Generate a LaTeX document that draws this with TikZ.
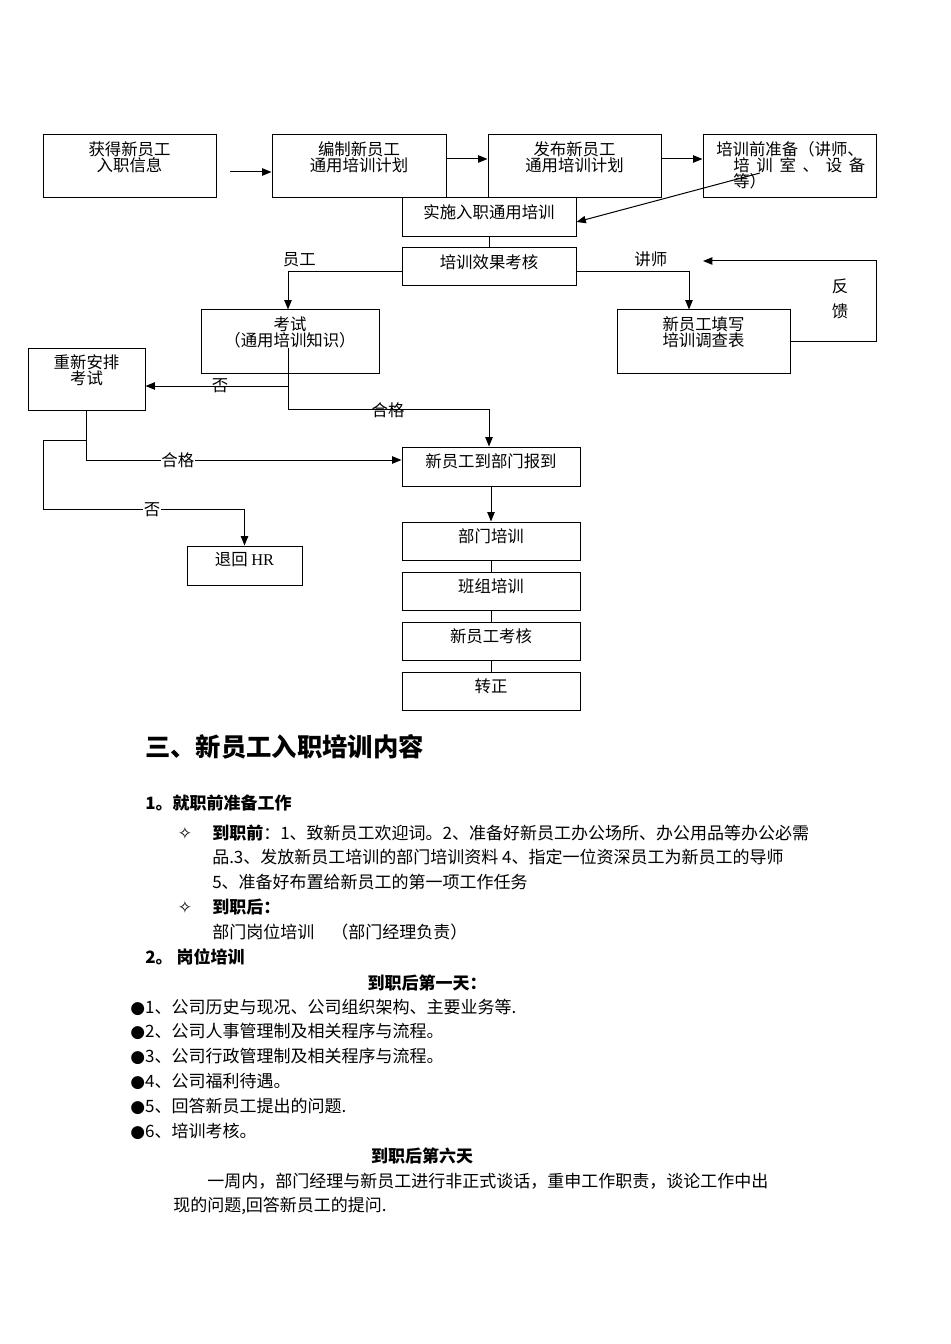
\documentclass[tikz,border=0pt]{standalone}
\usepackage{fontspec}
\setmainfont{Noto Sans CJK SC}
\newfontfamily\symfont{DejaVu Sans}
\newfontfamily\latfont{Liberation Serif}
\usetikzlibrary{arrows.meta,positioning,calc}
\newcommand\flowsize{\fontsize{12.3pt}{12pt}\selectfont\lineskiplimit=-5pt}
\newcommand\bodysize{\fontsize{12.75pt}{18pt}\selectfont}
\tikzset{
  box/.style 2 args={draw, line width=0.75pt, inner sep=0pt, minimum width=#1*0.75pt, minimum height=#2*0.75pt},
  txt/.style={align=center, inner sep=0pt, font=\flowsize},
  line/.style={line width=0.75pt},
  arr/.style={line, -{Triangle[length=7pt,width=5.5pt]}},
  lbl/.style={inner sep=0.5pt, font=\flowsize},
  body/.style={anchor=west, inner sep=0pt, font=\bodysize},
  head/.style={anchor=west, inner sep=0pt, font=\bodysize\bfseries}
}

\begin{document}
\begin{tikzpicture}[x=0.75pt, y=-0.75pt]
\useasboundingbox (0,0) rectangle (950,1344);

% flow chart boxes
\node (get)     [box={173}{63}] at (129.5,166.5) {};
\node (plan)    [box={174}{63}] at (359,166.5) {};
\node (pub)     [box={173}{63}] at (574.5,166.5) {};
\node (prep)    [box={173}{63}] at (789.5,166.5) {};
\node (impl)    [box={174}{39}] at (489,217.5) {};
\node (eval)    [box={174}{38}] at (489,267) {};
\node (exam)    [box={178}{63}] at (290,341.5) {};
\node (survey)  [box={173}{63}] at (703.5,341.5) {};
\node (retry)   [box={117}{62}] at (86.5,379) {};
\node (report)  [box={178}{39}] at (491,466.5) {};
\node (hr)      [box={115}{39}] at (244.5,565.5) {};
\node (dept)    [box={178}{38}] at (491,541) {};
\node (team)    [box={178}{38}] at (491,591) {};
\node (check)   [box={178}{38}] at (491,641) {};
\node (regular) [box={178}{38}] at (491,691) {};

% box texts
\node (gett)    [txt, below=5pt of get.north] {获得新员工\\入职信息};
\node (plant)   [txt, below=5pt of plan.north] {编制新员工\\通用培训计划};
\node (pubt)    [txt, below=5pt of pub.north] {发布新员工\\通用培训计划};
\node (prept)   [txt, align=left, anchor=north west] at (716,141)
  {培训前准备（讲师、\\\hspace*{12.75pt}\makebox[99pt]{培\hfill 训\hfill 室\hfill 、\hfill 设\hfill 备}\\\hspace*{12.75pt}等）};
\node (implt)   [txt, below=5pt of impl.north] {实施入职通用培训};
\node (evalt)   [txt, below=5pt of eval.north] {培训效果考核};
\node (examt)   [txt, below=5pt of exam.north] {考试\\（通用培训知识）};
\node (surveyt) [txt, below=5pt of survey.north] {新员工填写\\培训调查表};
\node (retryt)  [txt, below=5pt of retry.north] {重新安排\\考试};
\node (reportt) [txt, below=5pt of report.north] {新员工到部门报到};
\node (hrt)     [txt, below=5pt of hr.north] {退回 {\latfont HR}};
\node (deptt)   [txt, below=5pt of dept.north] {部门培训};
\node (teamt)   [txt, below=5pt of team.north] {班组培训};
\node (checkt)  [txt, below=5pt of check.north] {新员工考核};
\node (regulart)[txt, below=5pt of regular.north] {转正};

% connectors
\coordinate (gettail) at (230,172);
\draw[arr] (gettail) -- (gettail -| plan.west);
\draw[arr] ($(plan.east)+(0,-7.5)$) -- ($(pub.west)+(0,-7.5)$);
\draw[arr] ($(pub.east)+(0,-7.5)$) -- ($(prep.west)+(0,-7.5)$);
\coordinate (preptail) at (760,173);
\draw[arr] (preptail) -- ($(impl.east)+(0,4.5)$);
\draw[line] (impl.south) -- (eval.north);

\draw[arr] ($(eval.west)+(0,5)$) -| node[lbl, above=3pt, pos=0.45] {员工} ($(exam.north)+(-2,0)$);
\draw[arr] ($(eval.east)+(0,5)$) -| node[lbl, above=3pt, pos=0.33] {讲师} ($(survey.north)+(-14.5,0)$);

\coordinate (fbtip) at (703,261);
\draw[arr] (survey.east) -- ++(86,0) |- (fbtip);
\node (fbt) [txt] at (840,298.5) {反\\[6.75pt]馈};

\coordinate (examtail) at (288,348);
\draw[arr] (examtail) |- ($(report.north)+(-2,-37)$) -- ($(report.north)+(-2,0)$);
\draw[arr] (288,386) -- (retry.east |- 288,386);
\node (no1) [lbl] at (220,386) {否};
\node (ok1) [lbl] at (388,410) {合格};

\draw[arr] (retry.south) |- node[lbl, fill=white, pos=0.645] {合格} ($(report.west)+(0,-6.5)$);
\coordinate (retfork) at ($(retry.south)+(0,30)$);
\draw[arr] (retfork) -- ++(-43,0) |- ($(hr.north)+(0,-36)$) -- (hr.north);
\node (no2) [lbl, fill=white] at (152,510) {否};

\draw[arr] (report.south) -- (dept.north);
\foreach \upper/\lower in {dept/team, team/check, check/regular}{
  \draw[line] (\upper.south) -- (\lower.north);
}

% text part
\node (title) [head, font=\fontsize{19pt}{22pt}\selectfont\bfseries] at (145,747) {三、新员工入职培训内容};
\node (sec1)  [head] at (145,803) {1。就职前准备工作};
\node (star1) [body, anchor=center] at (185,833) {\symfont ✧};
\node (pre1)  [body] at (212,833) {\textbf{到职前}：1、致新员工欢迎词。2、准备好新员工办公场所、办公用品等办公必需};
\node (pre2)  [body] at (212,857) {品.3、发放新员工培训的部门培训资料 4、指定一位资深员工为新员工的导师};
\node (pre3)  [body] at (212,882) {5、准备好布置给新员工的第一项工作任务};
\node (star2) [body, anchor=center] at (185,907) {\symfont ✧};
\node (post1) [head] at (212,907) {到职后：};
\node (post2) [body] at (212,932) {部门岗位培训\quad（部门经理负责）};
\node (sec2)  [head] at (145,957) {2。 岗位培训};
\node (day1)  [head, anchor=center] at (427,983) {到职后第一天：};
\foreach \entry [count=\i] in {公司历史与现况、公司组织架构、主要业务等.,
    公司人事管理制及相关程序与流程。, 公司行政管理制及相关程序与流程。,
    公司福利待遇。, 回答新员工提出的问题., 培训考核。}{
  \node (pt\i) [body] at (130,{982.2+\i*24.8}) {{\symfont ●}\i、\entry};
}
\node (day6)  [head, anchor=center] at (422,1156) {到职后第六天};
\node (talk1) [body] at (207,1181) {一周内，部门经理与新员工进行非正式谈话，重申工作职责，谈论工作中出};
\node (talk2) [body] at (173,1206) {现的问题,回答新员工的提问.};

\end{tikzpicture}
\end{document}
